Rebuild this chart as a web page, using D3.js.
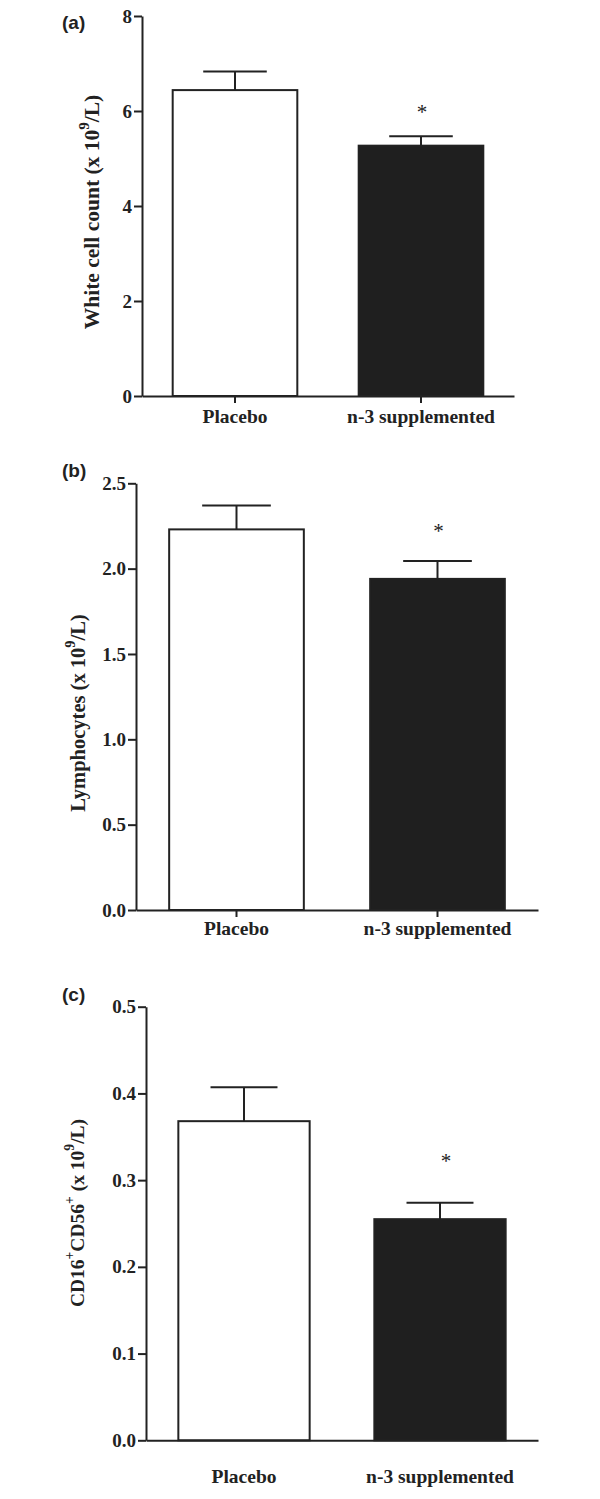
<!DOCTYPE html>
<html>
<head>
<meta charset="utf-8">
<script src="https://cdn.jsdelivr.net/npm/d3@7"></script>
<style>
  html, body { margin: 0; padding: 0; background: #fff; }
  svg { display: block; }
</style>
</head>
<body>
<svg id="chart" width="600" height="1499"></svg>
<script>
// ---- data ----
const categories = ["Placebo", "n-3 supplemented"];
const wbcMean = [6.44, 5.27];
const wbcSem = [0.39, 0.20];
const wbcTicks = [0, 2, 4, 6, 8];
const lymphMean = [2.23, 1.94];
const lymphSem = [0.14, 0.105];
const lymphTicks = [0.0, 0.5, 1.0, 1.5, 2.0, 2.5];
const nkMean = [0.368, 0.255];
const nkSem = [0.039, 0.019];
const nkTicks = [0.0, 0.1, 0.2, 0.3, 0.4, 0.5];
const significant = [false, true];
const panelLetters = ["(a)", "(b)", "(c)"];

// ---- layout ----
const ink = "#222";
const svg = d3.select("#chart");
const serif = "'Liberation Serif', 'Times New Roman', serif";
const sans = "'Liberation Sans', Arial, sans-serif";

const panels = [
  { letter: panelLetters[0], mean: wbcMean, sem: wbcSem, ticks: wbcTicks, fmt: d3.format("d"),
    xRange: [142, 514], yRange: [396, 16], letterPos: [62, 29],
    yLabel: ["White cell count (x 10", "9", "/L)"], yLabelPos: [92, 212], yLabelSize: 21.5,
    xTick: 7, xPad: 6.5, starY: 108 },
  { letter: panelLetters[1], mean: lymphMean, sem: lymphSem, ticks: lymphTicks, fmt: d3.format(".1f"),
    xRange: [136, 538], yRange: [910, 483.3], letterPos: [62, 477],
    yLabel: ["Lymphocytes (x 10", "9", "/L)"], yLabelPos: [78, 713], yLabelSize: 20.5,
    xTick: 7, xPad: 4.5, starY: 526.7 },
  { letter: panelLetters[2], mean: nkMean, sem: nkSem, ticks: nkTicks, fmt: d3.format(".1f"),
    xRange: [146, 538], yRange: [1440.3, 1006.7], letterPos: [62, 1001],
    yLabel: null, yLabelPos: [77, 1213], yLabelSize: 19.5,
    xTick: 0, xPad: 28.5, starY: 1156.7 }
];

panels.forEach((p, pi) => {
  const g = svg.append("g");
  const yMax = p.ticks[p.ticks.length - 1];
  const y = d3.scaleLinear().domain([0, yMax]).range(p.yRange);
  const x = d3.scaleBand().domain(categories).range(p.xRange)
    .paddingInner(0.33).paddingOuter(0.165);

  // bars
  g.selectAll("rect.bar").data(categories).join("rect")
    .attr("class", "bar")
    .attr("x", d => x(d))
    .attr("width", x.bandwidth())
    .attr("y", (d, i) => y(p.mean[i]))
    .attr("height", (d, i) => y(0) - y(p.mean[i]))
    .attr("fill", (d, i) => i === 0 ? "#fff" : "#1f1f1f")
    .attr("stroke", ink)
    .attr("stroke-width", 2);

  // error bars (upper only)
  const capW = x.bandwidth() * 0.51;
  categories.forEach((c, i) => {
    const cx = x(c) + x.bandwidth() / 2;
    g.append("line")
      .attr("x1", cx).attr("x2", cx)
      .attr("y1", y(p.mean[i])).attr("y2", y(p.mean[i] + p.sem[i]))
      .attr("stroke", ink).attr("stroke-width", 2);
    g.append("line")
      .attr("x1", cx - capW / 2).attr("x2", cx + capW / 2)
      .attr("y1", y(p.mean[i] + p.sem[i])).attr("y2", y(p.mean[i] + p.sem[i]))
      .attr("stroke", ink).attr("stroke-width", 2);
    if (significant[i]) {
      g.append("text")
        .attr("x", cx + (pi === 2 ? 6 : 1))
        .attr("y", p.starY + 11)
        .attr("text-anchor", "middle")
        .attr("font-family", serif)
        .attr("font-size", 21)
        .attr("fill", ink)
        .text("*");
    }
  });

  // y axis
  const ya = g.append("g")
    .attr("transform", `translate(${p.xRange[0]},0)`)
    .call(d3.axisLeft(y).tickValues(p.ticks).tickFormat(p.fmt).tickSize(8).tickPadding(2).tickSizeOuter(0));
  // x axis
  const xa = g.append("g")
    .attr("transform", `translate(0,${p.yRange[0]})`)
    .call(d3.axisBottom(x).tickSize(p.xTick).tickPadding(p.xPad).tickSizeOuter(0));

  [ya, xa].forEach(a => {
    a.select(".domain").attr("stroke", ink).attr("stroke-width", 2);
    a.selectAll(".tick line").attr("stroke", ink).attr("stroke-width", 2);
    a.selectAll(".tick text")
      .attr("fill", ink)
      .attr("font-family", serif)
      .attr("font-weight", "bold")
      .attr("font-size", 19.5);
  });
  ya.selectAll(".tick text").attr("font-size", 19);

  // panel letter
  g.append("text")
    .attr("x", p.letterPos[0]).attr("y", p.letterPos[1])
    .attr("font-family", sans).attr("font-weight", "bold").attr("font-size", 19)
    .attr("fill", ink)
    .text(p.letter);

  // y label
  const yl = g.append("text")
    .attr("transform", `translate(${p.yLabelPos[0]},${p.yLabelPos[1]}) rotate(-90)`)
    .attr("text-anchor", "middle")
    .attr("dominant-baseline", "central")
    .attr("font-family", serif).attr("font-weight", "bold").attr("font-size", p.yLabelSize)
    .attr("fill", ink);
  let parts;
  if (p.yLabel) {
    parts = [[p.yLabel[0], 0], [p.yLabel[1], 1], [p.yLabel[2], 0]];
  } else {
    parts = [["CD16", 0], ["+", 1], ["CD56", 0], ["+", 1], [" (x 10", 0], ["9", 1], ["/L)", 0]];
  }
  let prevSup = 0;
  parts.forEach(([t, sup]) => {
    const ts = yl.append("tspan").text(t);
    if (sup) ts.attr("font-size", p.yLabelSize * 0.7);
    const shift = sup - prevSup;
    if (shift !== 0) ts.attr("dy", shift > 0 ? -8 : 8);
    prevSup = sup;
  });
});
</script>
</body>
</html>
